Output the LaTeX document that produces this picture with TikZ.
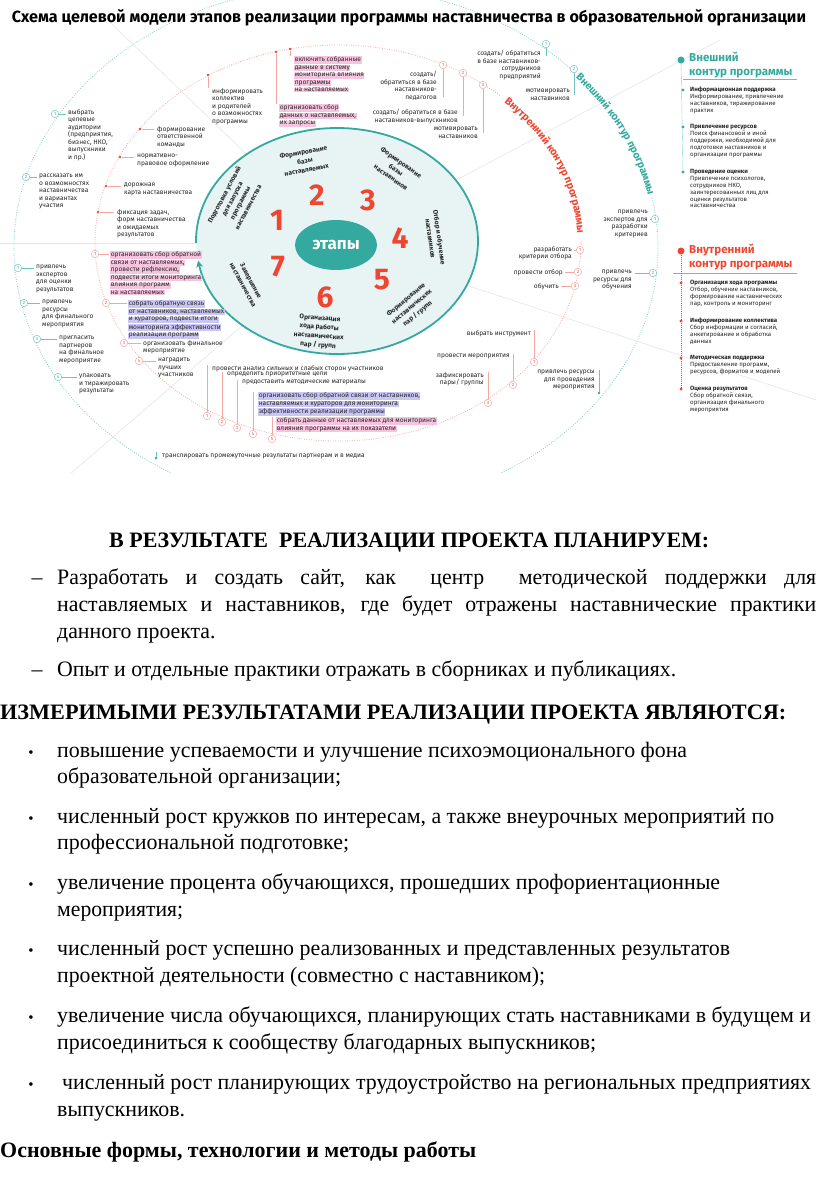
\documentclass[tikz,border=0pt]{standalone}
\usepackage{fontspec}
\setmainfont{Liberation Serif}
\newfontfamily\pop{Fira Sans}
\usetikzlibrary{decorations.text,arrows.meta,shapes.geometric}
\definecolor{tealc}{HTML}{34A99F}
\definecolor{redc}{HTML}{EE4630}
\definecolor{salm}{HTML}{F3A6A2}
\definecolor{pinkhl}{HTML}{F6C4DF}
\definecolor{bluehl}{HTML}{C9C6F2}
\definecolor{lightf}{HTML}{E8F4F4}
\definecolor{inkc}{HTML}{262626}
\definecolor{spokec}{HTML}{E6E6E6}
\newcommand\hp[1]{{\setlength\fboxsep{0.6pt}\colorbox{pinkhl}{#1}}}
\newcommand\hb[1]{{\setlength\fboxsep{0.6pt}\colorbox{bluehl}{#1}}}
\newsavebox\flbox
\newlength\resklen
\newcommand\fl[2]{\sbox\flbox{#2}\setlength\resklen{\wd\flbox}\pgfmathsetmacro\fx{#1/\resklen}\scalebox{\fx}[1]{\usebox\flbox}}
\newcommand\jl[2]{\pgfmathsetlengthmacro\jw{#1/\sx}\scalebox{\sx}[1]{\makebox[\jw][s]{#2}}}
\tikzset{
 an/.style={font=\pop\fontsize{6.6}{7.5}\selectfont, inner sep=0pt, align=left, anchor=north west, text=inkc},
 anr/.style={an, align=right, anchor=north east},
 mk/.style={circle, draw, fill=white, line width=0.45pt, minimum size=7.5pt, inner sep=0pt, font=\pop\fontsize{4.5}{4.5}\selectfont},
 rmk/.style={mk, draw=salm, text=redc},
 tmk/.style={mk, draw=tealc!70, text=tealc},
 rd/.style={circle, fill=redc, minimum size=2.6pt, inner sep=0pt},
 td/.style={circle, fill=tealc, minimum size=2.6pt, inner sep=0pt},
 rl/.style={draw=salm, line width=0.7pt},
 tl/.style={draw=tealc!70, line width=0.5pt},
 num/.style={font=\pop\bfseries\fontsize{30}{30}\selectfont, text=redc, inner sep=0pt},
 slab/.style={font=\pop\bfseries\fontsize{6.6}{9}\selectfont, align=center, inner sep=0pt, text=inkc},
 legh/.style={font=\pop\bfseries\fontsize{11.5}{14}\selectfont, inner sep=0pt, align=left, anchor=west},
 legi/.style={font=\pop\fontsize{6.1}{6.9}\selectfont, inner sep=0pt, align=left, anchor=north west, text=inkc},
 ldot/.style={circle, minimum size=3.2pt, inner sep=0pt},
 spoke/.style={draw=spokec, line width=0.6pt},
 body/.style={font=\fontsize{22}{22}\selectfont, inner sep=0pt, anchor=base west},
 bodyb/.style={font=\fontsize{22}{22}\selectfont\bfseries, inner sep=0pt, anchor=base west},
}
\begin{document}
\sbox\flbox{\fontsize{22}{22}\selectfont Опыт и отдельные практики отражать в сборниках и публикациях.}\setlength\resklen{\wd\flbox}\pgfmathsetmacro\sx{619/\resklen}%
\begin{tikzpicture}[x=1pt,y=-1pt]
\useasboundingbox (0,0) rectangle (816,1179);
\fill[white] (0,0) rectangle (816,1179);
% ---------------- diagram ----------------
\begin{scope}
\clip (0,0) rectangle (816,472);
\coordinate (cen) at (338,243);
\draw[spoke] (cen) -- (110,22);
\draw[spoke] (cen) -- (0,243);
\draw[spoke] (cen) -- (40,500);
\draw[spoke] (cen) -- (720,40);
\draw[spoke] (cen) -- (816,400);
% outer dotted ellipse (teal)
\draw[tealc!60, line width=0.8pt, dash pattern=on 0.8pt off 1.6pt] ([shift={(-11:322 and 262)}]336,248) arc[start angle=-11, end angle=318, x radius=322, y radius=262];
% inner dotted ellipse (red)
\draw[salm, line width=0.8pt, dash pattern=on 0.8pt off 1.6pt] ([shift={(-1:243 and 198)}]338,243) arc[start angle=-1, end angle=312, x radius=243, y radius=198];
\path[decorate, decoration={text along path, text align=center, raise=-3.5pt, text={|\pop\bfseries\fontsize{10.5}{10.5}\selectfont\color{redc}|Внутренний контур программы}}] ([shift={(-47:243 and 198)}]338,243) arc[start angle=-47, end angle=-2, x radius=243, y radius=198];
\path[decorate, decoration={text along path, text align=center, raise=-3.5pt, text={|\pop\bfseries\fontsize{10.5}{10.5}\selectfont\color{tealc}|Внешний контур программы}}] ([shift={(-42:322 and 262)}]336,248) arc[start angle=-42, end angle=-11, x radius=322, y radius=262];
% central ellipse
\fill[lightf] (337,241) ellipse[x radius=141, y radius=113];
\draw[tealc, line width=1.8pt, -{Stealth[length=7pt,width=7pt]}] ([shift={(-181:141 and 113)}]337,241) arc[start angle=-181, end angle=170, x radius=141, y radius=113];
\node[ellipse, fill=tealc, minimum width=82pt, minimum height=50pt, inner sep=0pt, text=white, font=\pop\bfseries\fontsize{17}{17}\selectfont] (etapy) at (336,245) {этапы};
\node[num] (n1) at (277,220) {1};
\node[num] (n2) at (317,195) {2};
\node[num] (n3) at (368,200) {3};
\node[num] (n4) at (400,238) {4};
\node[num] (n5) at (382,280) {5};
\node[num] (n6) at (325,297) {6};
\node[num] (n7) at (278,267) {7};
\node[slab, rotate=62] (s1) at (236,201) {Подготовка условий\\для запуска\\программы\\наставничества};
\node[slab, rotate=10] (s2) at (305,161) {Формирование\\базы\\наставляемых};
\node[slab, rotate=-35] (s3) at (396,170) {Формирование\\базы\\наставников};
\node[slab, rotate=-82] (s4) at (435,238) {Отбор и обучение\\наставников};
\node[slab, rotate=40] (s5) at (412,307) {Формирование\\наставнических\\пар / групп};
\node[slab, rotate=-4] (s6) at (319,332) {Организация\\хода работы\\наставнических\\пар / групп};
\node[slab, rotate=-62] (s7) at (247,283) {Завершение\\наставничества};
% ---- upper left red dots
\node[rd] (dA) at (208,75) {};
\node[an] (tinf) at (212,88) {информировать\\коллектив\\и родителей\\о возможностях\\программы};
\draw[rl] (dA) -- (dA |- tinf.north);
\node[rd] (dB) at (276,52) {};
\node[an] (pB) at (279,104) {\hp{организовать сбор}\\\hp{данных о наставляемых,}\\\hp{их запросы}};
\draw[rl] (dB) -- (dB |- pB.north);
\node[rd] (dC) at (290,49) {};
\node[an] (pA) at (294,56) {\hp{включить собранные}\\\hp{данные в систему}\\\hp{мониторинга влияния}\\\hp{программы}\\\hp{на наставляемых}};
\draw[rl] (dC) -- (dC |- pA.north);
\node[rd] (d1) at (140,129) {};
\node[an] (f1) at (157,126) {формирование\\ответственной\\команды};
\draw[rl] (d1) -- ([xshift=-3pt]d1 -| f1.west);
\node[rd] (d2) at (120,157) {};
\node[an] (f2) at (137,154) {нормативно-\\правовое оформление};
\draw[rl] (d2) -- ([xshift=-3pt]d2 -| f2.west);
\node[rd] (d3) at (106,186) {};
\node[an] (f3) at (124,183) {дорожная\\карта наставничества};
\draw[rl] (d3) -- ([xshift=-3pt]d3 -| f3.west);
\node[rd] (d4) at (98,212) {};
\node[an] (f4) at (117,209) {фиксация задач,\\форм наставничества\\и ожидаемых\\результатов};
\draw[rl] (d4) -- ([xshift=-3pt]d4 -| f4.west);
% ---- teal upper left
\node[tmk] (T1) at (55,114) {1};
\node[an] (t1t) at (68,109) {выбрать\\целевые\\аудитории\\(предприятия,\\бизнес, НКО,\\выпускники\\и пр.)};
\draw[tl] (T1.east) -- ([xshift=-2pt]T1.east -| t1t.west);
\node[tmk] (T2) at (26,177) {2};
\node[an] (t2t) at (39,174) {рассказать им\\о возможностях\\наставничества\\и вариантах\\участия};
\draw[tl] (T2.east) -- ([xshift=-2pt]T2.east -| t2t.west);
% ---- top right red markers
\node[rmk] (RT1) at (443,65) {1};
\node[rmk] (RT2) at (463,73) {2};
\node[rmk] (RT3) at (483,85) {3};
\node[anr] (ra1) at (437,71) {создать/\\обратиться в базе\\наставников-\\педагогов};
\node[anr] (ra2) at (458,109) {создать/ обратиться в базе\\наставников-выпускников};
\node[anr] (ra3) at (478,127) {мотивировать\\наставников};
\draw[rl] (RT1.south) -- ++(0,28);
\draw[rl] (RT2.south) -- (RT2.south |- ra2.center);
\draw[rl] (RT3.south) -- (RT3.south |- ra3.center);
% ---- top right teal markers
\node[tmk] (T3) at (546,44) {1};
\node[anr] (t3t) at (541,50) {создать/ обратиться\\в базе наставников-\\сотрудников\\предприятий};
\draw[tl] (T3.south) -- ++(0,8);
\node[tmk] (T4) at (574,69) {2};
\node[anr] (t4t) at (570,89) {мотивировать\\наставников};
\draw[tl] (T4.south) -- (T4.south |- t4t.center);
\node[tmk] (T5) at (655,219) {1};
\node[anr] (t5t) at (648,210) {привлечь\\экспертов для\\разработки\\критериев};
\draw[tl] (T5.west) -- ([xshift=2pt]T5.west -| t5t.east);
\node[tmk] (T6) at (653,273) {2};
\node[anr] (t6t) at (632,270) {привлечь\\ресурсы для\\обучения};
\draw[tl] (T6.west) -- ([xshift=3pt]T6.west -| t6t.east);
\node[td] (T7) at (599,393) {};
\node[anr] (t7t) at (595,370) {привлечь ресурсы\\для проведения\\мероприятия};
\draw[tl] (T7) -- (T7 |- t7t.north);
% ---- right red markers
\node[rmk] (RR1) at (580,250) {1};
\node[anr] (rr1t) at (572,246) {разработать\\критерии отбора};
\draw[rl] (RR1.west) -- ([xshift=2pt]RR1.west -| rr1t.east);
\node[rmk] (RR2) at (578,272) {2};
\node[anr] (rr2t) at (563,269) {провести отбор};
\draw[rl] (RR2.west) -- ([xshift=2pt]RR2.west -| rr2t.east);
\node[rmk] (RR3) at (575,286) {3};
\node[anr] (rr3t) at (559,283) {обучить};
\draw[rl] (RR3.west) -- ([xshift=2pt]RR3.west -| rr3t.east);
% ---- lower right red markers
\node[rmk] (RL1) at (534,362) {1};
\node[anr] (rl1t) at (531,330) {выбрать инструмент};
\draw[rl] (RL1.north) -- (RL1.north |- rl1t.north);
\node[rmk] (RL2) at (513,385) {2};
\node[anr] (rl2t) at (510,354) {провести мероприятия};
\draw[rl] (RL2.north) -- (RL2.north |- rl2t.north);
\node[rmk] (RL3) at (488,403) {3};
\node[anr] (rl3t) at (484,372) {зафиксировать\\пары/ группы};
\draw[rl] (RL3.north) -- (RL3.north |- rl3t.north);
% ---- left red markers
\node[rmk] (RF1) at (95,254) {1};
\node[an] (rf1t) at (110,251) {\hp{организовать сбор обратной}\\\hp{связи от наставляемых,}\\\hp{провести рефлексию,}\\\hp{подвести итоги мониторинга}\\\hp{влияния программ}\\\hp{на наставляемых}};
\draw[rl] (RF1.east) -- ([xshift=-1pt]RF1.east -| rf1t.west);
\node[rmk] (RF2) at (106,303) {2};
\node[an] (rf2t) at (128,300) {\hb{собрать обратную связь}\\\hb{от наставников, наставляемых}\\\hb{и кураторов, подвести итоги}\\\hb{мониторинга эффективности}\\\hb{реализации программ}};
\draw[rl] (RF2.east) -- ([xshift=-1pt]RF2.east -| rf2t.west);
\node[rmk] (RF3) at (124,343) {3};
\node[an] (rf3t) at (143,340) {организовать финальное\\мероприятие};
\draw[rl] (RF3.east) -- ([xshift=-2pt]RF3.east -| rf3t.west);
\node[rmk] (RF4) at (139,361) {4};
\node[an] (rf4t) at (158,358) {наградить\\лучших\\участников};
\draw[rl] (RF4.east) -- ([xshift=-2pt]RF4.east -| rf4t.west);
% ---- left teal markers
\node[tmk] (L1) at (18,268) {1};
\node[an] (l1t) at (36,265) {привлечь\\экспертов\\для оценки\\результатов};
\draw[tl] (L1.east) -- ([xshift=-2pt]L1.east -| l1t.west);
\node[tmk] (L2) at (24,303) {2};
\node[an] (l2t) at (42,300) {привлечь\\ресурсы\\для финального\\мероприятия};
\draw[tl] (L2.east) -- ([xshift=-2pt]L2.east -| l2t.west);
\node[tmk] (L3) at (37,339) {3};
\node[an] (l3t) at (59,336) {пригласить\\партнеров\\на финальное\\мероприятие};
\draw[tl] (L3.east) -- ([xshift=-2pt]L3.east -| l3t.west);
\node[tmk] (L4) at (58,377) {4};
\node[an] (l4t) at (79,374) {упаковать\\и тиражировать\\результаты};
\draw[tl] (L4.east) -- ([xshift=-2pt]L4.east -| l4t.west);
% ---- bottom red markers
\node[rmk] (B1) at (207,416) {1};
\node[rmk] (B2) at (222,422) {2};
\node[rmk] (B3) at (237,428) {3};
\node[rmk] (B4) at (253,434) {4};
\node[rmk] (B5) at (272,439) {5};
\node[an] (bt1) at (212,365) {провести анализ сильных и слабых сторон участников};
\node[an] (bt2) at (227,372) {определить приоритетные цели};
\node[an] (bt3) at (242,380) {предоставить методические материалы};
\node[an] (bt4) at (258,392) {\hb{организовать сбор обратной связи от наставников,}\\\hb{наставляемых и кураторов для мониторинга}\\\hb{эффективности реализации программы}};
\node[an] (bt5) at (276,417) {\hp{собрать данные от наставляемых для мониторинга}\\\hp{влияния программы на их показатели}};
\draw[rl] (B1.north) -- (B1.north |- bt1.north);
\draw[rl] (B2.north) -- (B2.north |- bt2.north);
\draw[rl] (B3.north) -- (B3.north |- bt3.north);
\draw[rl] (B4.north) -- (B4.north |- bt4.north);
\draw[rl] (B5.north) -- (B5.north |- bt5.north);
\node[td] (TR) at (156,458) {};
\node[an] (trt) at (162,454) {транслировать промежуточные результаты партнерам и в медиа};
\draw[tl] (TR) -- ++(0,-6);
\end{scope}
% ---- title
\node[inner sep=0pt] (title) at (409,18) {\resizebox{794pt}{!}{\pop\bfseries Схема целевой модели этапов реализации программы наставничества в образовательной организации}};
% ---- legend external
\node[ldot, fill=tealc, minimum size=7pt] (extD) at (681,60) {};
\node[legh, text=tealc] (extT) at (689,65) {Внешний\\контур программы};
\draw[gray!70, line width=0.8pt] (683,79) -- (797,79);
\node[ldot, fill=tealc] (e1d) at (683,90) {};
\node[ldot, fill=tealc] (e2d) at (683,127) {};
\node[ldot, fill=tealc] (e3d) at (683,172) {};
\draw[tealc, line width=0.4pt, dash pattern=on 1pt off 1pt] (extD) -- (e3d);
\node[legi] (e1) at (690,87) {\textbf{Информационная поддержка}\\Информирование, привлечение\\наставников, тиражирование\\практик};
\node[legi] (e2) at (690,124) {\textbf{Привлечение ресурсов}\\Поиск финансовой и иной\\поддержки, необходимой для\\подготовки наставников и\\организации программы};
\node[legi] (e3) at (690,169) {\textbf{Проведение оценки}\\Привлечение психологов,\\сотрудников НКО,\\заинтересованных лиц для\\оценки результатов\\наставничества};
% ---- legend internal
\node[ldot, fill=redc, minimum size=7pt] (intD) at (681,251) {};
\node[legh, text=redc] (intT) at (689,257) {Внутренний\\контур программы};
\draw[gray!70, line width=0.8pt] (673,273) -- (797,273);
\node[ldot, fill=redc] (i1d) at (681,283) {};
\node[ldot, fill=redc] (i2d) at (681,321) {};
\node[ldot, fill=redc] (i3d) at (681,358) {};
\node[ldot, fill=redc] (i4d) at (681,389) {};
\draw[redc, line width=0.4pt, dash pattern=on 1pt off 1pt] (intD) -- (i4d);
\node[legi] (i1) at (690,280) {\textbf{Организация хода программы}\\Отбор, обучение наставников,\\формирование наставнических\\пар, контроль и мониторинг};
\node[legi] (i2) at (690,318) {\textbf{Информирование коллектива}\\Сбор информации и согласий,\\анкетирование и обработка\\данных};
\node[legi] (i3) at (690,355) {\textbf{Методическая поддержка}\\Предоставление программ,\\ресурсов, форматов и моделей};
\node[legi] (i4) at (690,386) {\textbf{Оценка результатов}\\Сбор обратной связи,\\организация финального\\мероприятия};
% ---------------- text part ----------------
\node[bodyb] (h1) at (109,547) {\fl{600}{В РЕЗУЛЬТАТЕ \ РЕАЛИЗАЦИИ ПРОЕКТА ПЛАНИРУЕМ:}};
\node[body, anchor=base] (da1) at (37,584) {–};
\node[body] (a1) at (57,584) {\jl{759}{Разработать и создать сайт, как \ центр \ методической поддержки для}};
\node[body] (a2) at (57,611) {\jl{759}{наставляемых и наставников, где будет отражены наставнические практики}};
\node[body] (a3) at (57,638) {\scalebox{\sx}[1]{данного проекта.}};
\node[body, anchor=base] (da2) at (37,676) {–};
\node[body] (a4) at (57,676) {\fl{619}{Опыт и отдельные практики отражать в сборниках и публикациях.}};
\node[bodyb] (h2) at (0,719) {\fl{786}{ИЗМЕРИМЫМИ РЕЗУЛЬТАТАМИ РЕАЛИЗАЦИИ ПРОЕКТА ЯВЛЯЮТСЯ:}};
\foreach \yy/\nm in {757/1,823/2,889/3,955/4,1022/5,1089/6}{
  \node[body, anchor=base, font=\fontsize{15}{15}\selectfont] (bul\nm) at (31,\yy) {•};
}
\node[body] (b1a) at (57,757) {\fl{630}{повышение успеваемости и улучшение психоэмоционального фона}};
\node[body] (b1b) at (57,783) {\fl{284}{образовательной организации;}};
\node[body] (b2a) at (57,823) {\fl{717}{численный рост кружков по интересам, а также внеурочных мероприятий по}};
\node[body] (b2b) at (57,849) {\fl{292}{профессиональной подготовке;}};
\node[body] (b3a) at (57,889) {\fl{663}{увеличение процента обучающихся, прошедших профориентационные}};
\node[body] (b3b) at (57,916) {\fl{126}{мероприятия;}};
\node[body] (b4a) at (57,955) {\fl{673}{численный рост успешно реализованных и представленных результатов}};
\node[body] (b4b) at (57,982) {\fl{488}{проектной деятельности (совместно с наставником);}};
\node[body] (b5a) at (57,1022) {\fl{754}{увеличение числа обучающихся, планирующих стать наставниками в будущем и}};
\node[body] (b5b) at (57,1049) {\fl{539}{присоединиться к сообществу благодарных выпускников;}};
\node[body] (b6a) at (62,1089) {\fl{749}{численный рост планирующих трудоустройство на региональных предприятиях}};
\node[body] (b6b) at (57,1116) {\fl{128}{выпускников.}};
\node[bodyb] (h3) at (0,1157) {\fl{476}{Основные формы, технологии и методы работы}};
\end{tikzpicture}
\end{document}
